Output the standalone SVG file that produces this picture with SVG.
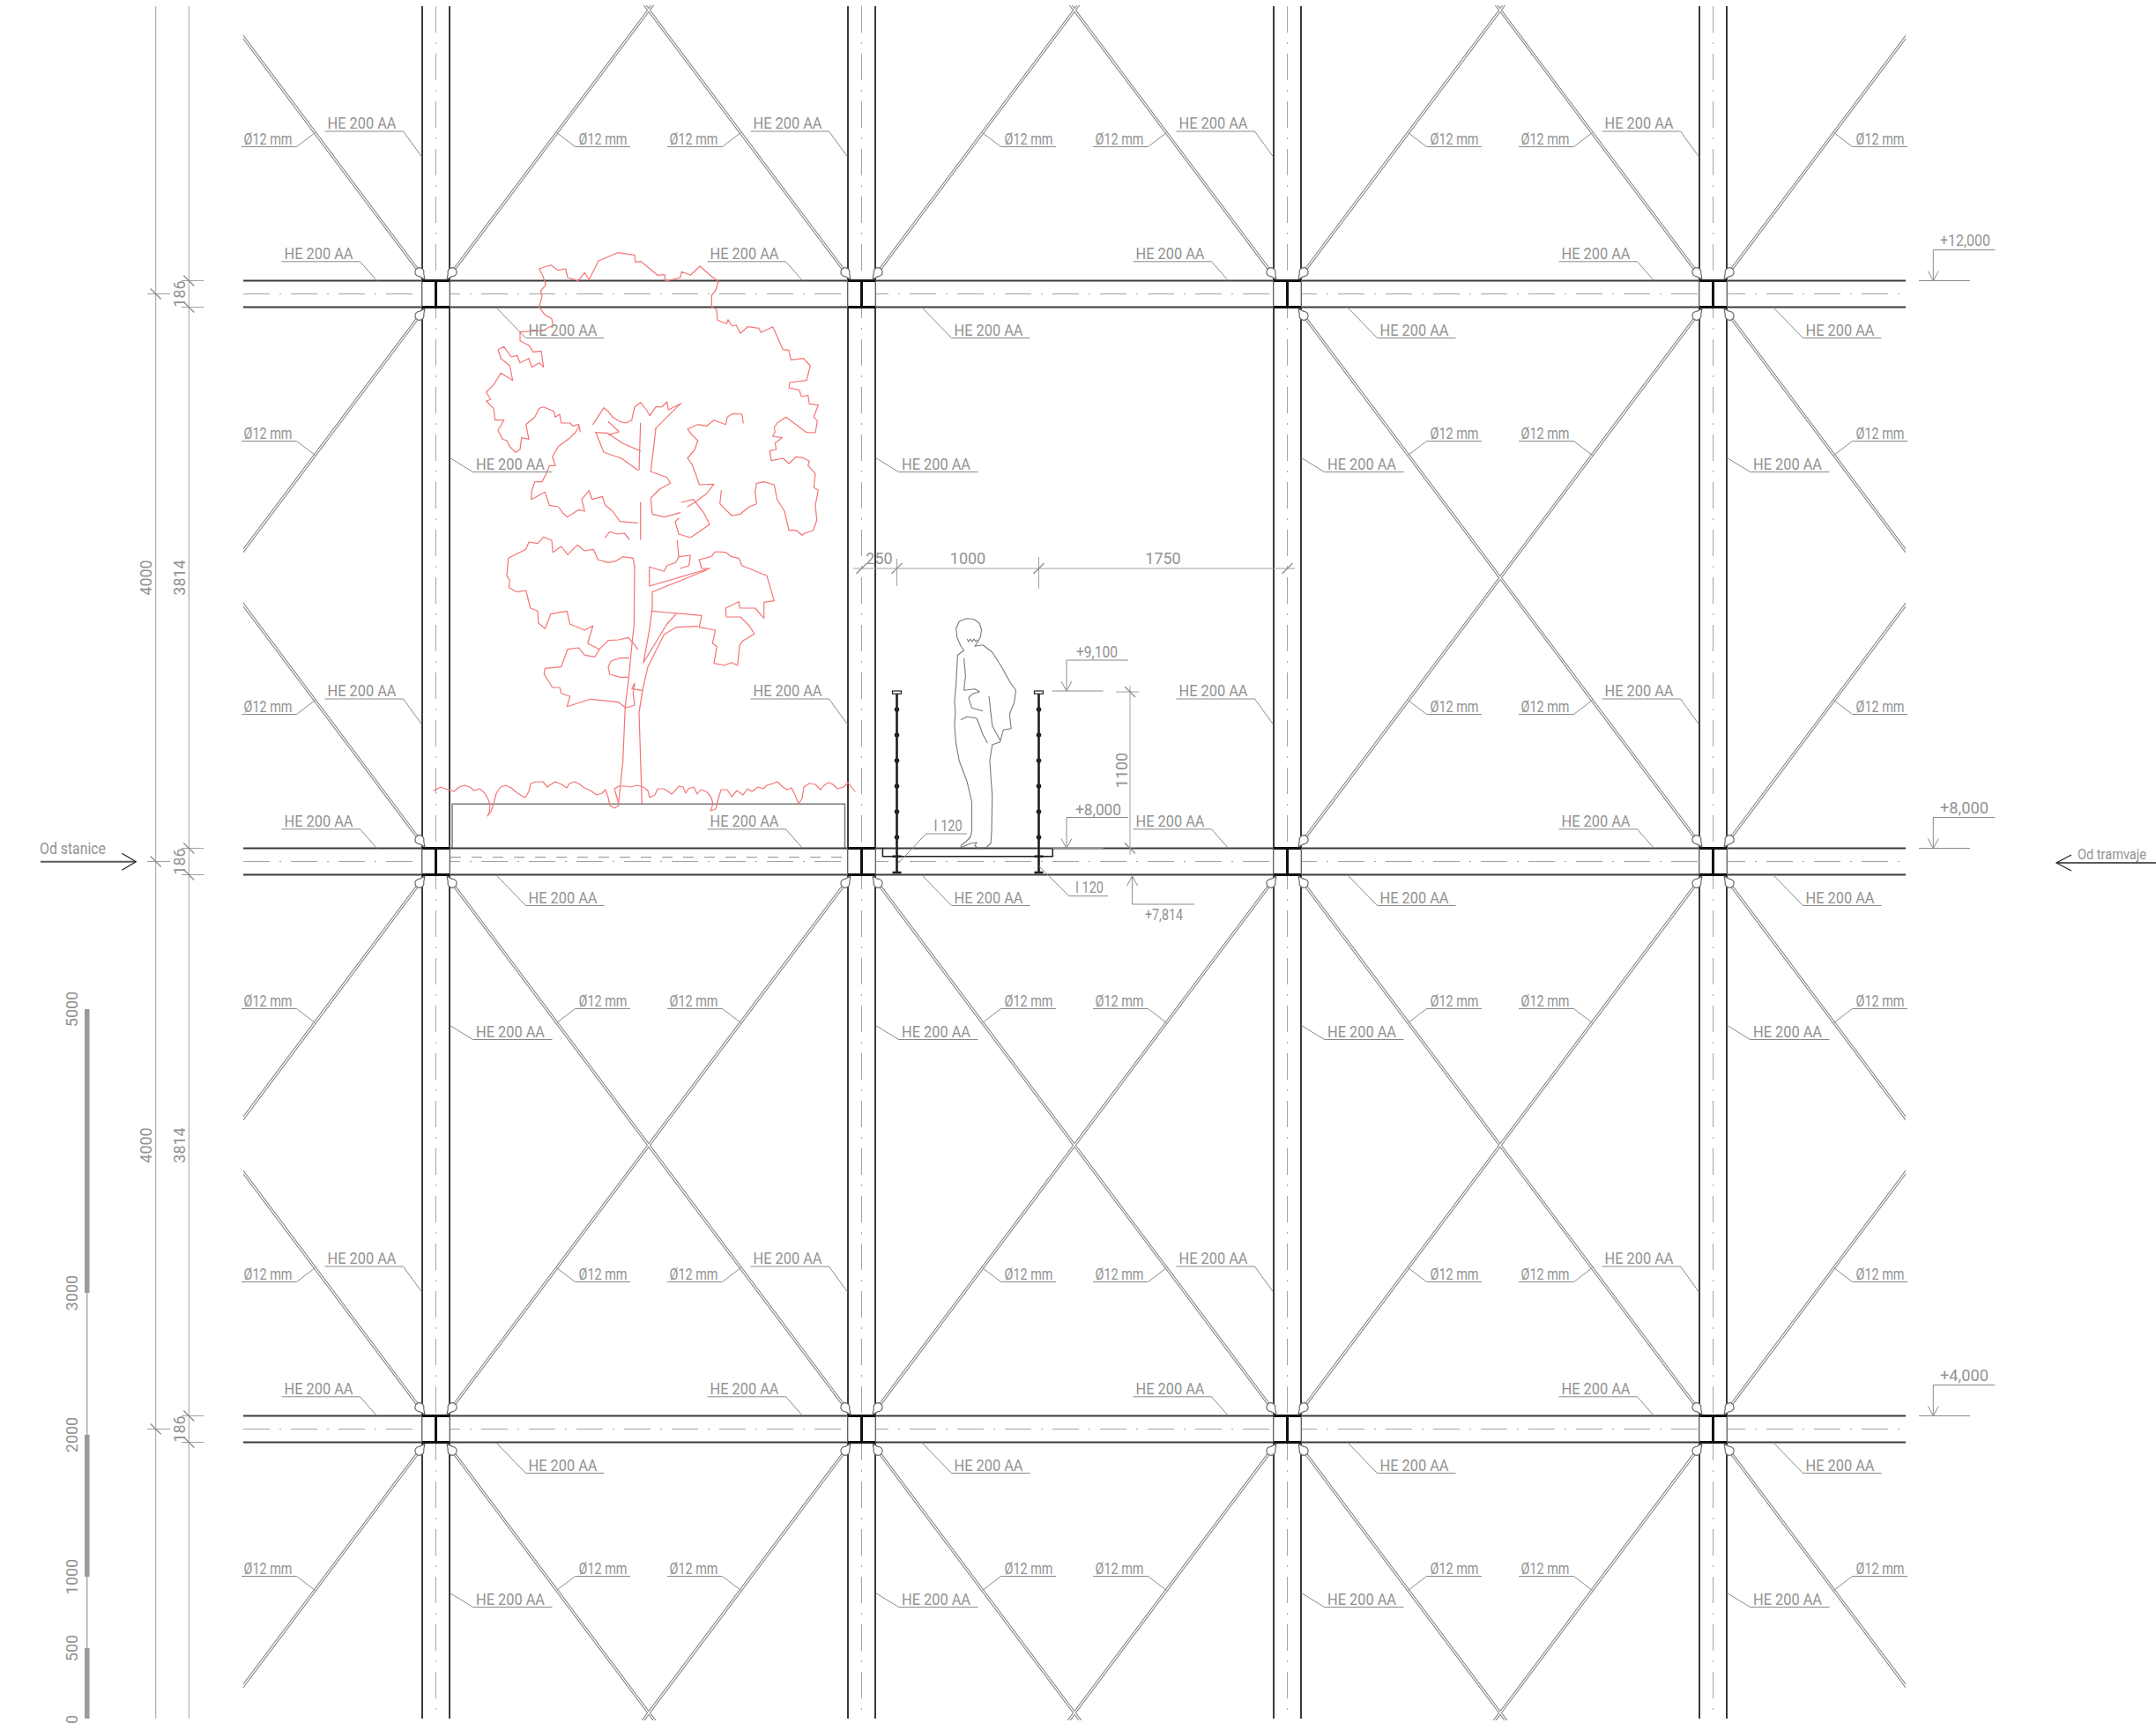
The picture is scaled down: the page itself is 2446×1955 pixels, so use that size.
<svg xmlns="http://www.w3.org/2000/svg" width="2446" height="1955" viewBox="0 0 2446 1955">
<style>
.t{font-family:Roboto,"Liberation Sans",sans-serif;font-size:18px;font-weight:400;fill:#929292}
.ld{fill:none;stroke:#8a8a8a;stroke-width:1}
.edge{fill:none;stroke:#3a3a3a;stroke-width:2}
.cl{fill:none;stroke:#a3a3a3;stroke-width:1;stroke-dasharray:30 11 2 11}
.dim{fill:none;stroke:#a0a0a0;stroke-width:1}
.tk{fill:none;stroke:#8a8a8a;stroke-width:1.2}
.tree{fill:none;stroke:#f37474;stroke-width:1.2;stroke-linejoin:round;stroke-linecap:round}
.cv{fill:#fff;stroke:#6a6a6a;stroke-width:1.2}
.blk{fill:#111}
.ink{fill:none;stroke:#1e1e1e}
</style>
<defs>
  <clipPath id="frame"><rect x="276" y="6" width="1886" height="1946"/></clipPath>
  <!-- centre lines of all tension rods, trimmed at the clevises -->
  <path id="rodpath" d="M33.1,-281.7L472.9,304.7M33.1,304.7L472.9,-281.7M516.1,-281.7L955.9,304.7M516.1,304.7L955.9,-281.7M999.1,-281.7L1438.9,304.7M999.1,304.7L1438.9,-281.7M1482.1,-281.7L1921.9,304.7M1482.1,304.7L1921.9,-281.7M1965.1,-281.7L2404.9,304.7M1965.1,304.7L2404.9,-281.7
  M33.1,362.3L472.9,948.7M33.1,948.7L472.9,362.3M1482.1,362.3L1921.9,948.7M1482.1,948.7L1921.9,362.3M1965.1,362.3L2404.9,948.7M1965.1,948.7L2404.9,362.3
  M33.1,1006.3L472.9,1592.7M33.1,1592.7L472.9,1006.3M516.1,1006.3L955.9,1592.7M516.1,1592.7L955.9,1006.3M999.1,1006.3L1438.9,1592.7M999.1,1592.7L1438.9,1006.3M1482.1,1006.3L1921.9,1592.7M1482.1,1592.7L1921.9,1006.3M1965.1,1006.3L2404.9,1592.7M1965.1,1592.7L2404.9,1006.3
  M33.1,1650.3L472.9,2236.7M33.1,2236.7L472.9,1650.3M516.1,1650.3L955.9,2236.7M516.1,2236.7L955.9,1650.3M999.1,1650.3L1438.9,2236.7M999.1,2236.7L1438.9,1650.3M1482.1,1650.3L1921.9,2236.7M1482.1,2236.7L1921.9,1650.3M1965.1,1650.3L2404.9,2236.7M1965.1,2236.7L2404.9,1650.3"/>
  <!-- rod end clevis, drawn along +x away from the joint centre -->
  <path id="cv" class="cv" d="M21,0 L27,-3 A5,5 0 1 1 27,3 Z"/>
  <!-- steel node: cross-section of the transverse HE beam -->
  <g id="jt">
    <rect x="-15.5" y="-15" width="31" height="30" fill="#fff" stroke="#8a8a8a" stroke-width="1"/>
    <rect class="blk" x="-15.5" y="-16.5" width="31" height="3"/>
    <rect class="blk" x="-15.5" y="13.5" width="31" height="3"/>
    <rect class="blk" x="-1.5" y="-15" width="3" height="30"/>
  </g>
  <!-- dimension ticks -->
  <line id="tkh" class="tk" x1="-6" y1="6" x2="6" y2="-6"/>
  <line id="tkv" class="tk" x1="-6" y1="-6" x2="6" y2="6"/>
  <!-- rod labels, positioned from the joint centre -->
  <g id="oA"><polyline class="ld" points="-220.5,-167 -158,-167 -137,-183"/><text class="t" x="-218" y="-169.5" textLength="55" lengthAdjust="spacingAndGlyphs">Ø12 mm</text></g>
  <g id="oB"><polyline class="ld" points="-220.5,167 -158,167 -137,183"/><text class="t" x="-218" y="164.5" textLength="55" lengthAdjust="spacingAndGlyphs">Ø12 mm</text></g>
  <g id="oC"><polyline class="ld" points="137,-183 158,-167 220.5,-167"/><text class="t" x="162" y="-169.5" textLength="55" lengthAdjust="spacingAndGlyphs">Ø12 mm</text></g>
  <g id="oD"><polyline class="ld" points="137,183 158,167 220.5,167"/><text class="t" x="162" y="164.5" textLength="55" lengthAdjust="spacingAndGlyphs">Ø12 mm</text></g>
  <!-- profile labels -->
  <g id="hE"><polyline class="ld" points="-126,-184.5 -37,-184.5 -16,-155.5"/><text class="t" x="-123" y="-187.5" textLength="78" lengthAdjust="spacingAndGlyphs">HE 200 AA</text></g>
  <g id="hF"><polyline class="ld" points="16,186 42,202 132,202"/><text class="t" x="45.5" y="199" textLength="78" lengthAdjust="spacingAndGlyphs">HE 200 AA</text></g>
  <g id="hG"><polyline class="ld" points="-175,-36.7 -86,-36.7 -67,-15"/><text class="t" x="-172" y="-39.5" textLength="78" lengthAdjust="spacingAndGlyphs">HE 200 AA</text></g>
  <g id="hH"><polyline class="ld" points="68,15 102,50 191,50"/><text class="t" x="105" y="47" textLength="78" lengthAdjust="spacingAndGlyphs">HE 200 AA</text></g>
  <!-- level marker, arrow pointing down onto the level line -->
  <g id="lv"><polyline class="ld" points="70,-35 0,-35 0,0"/><polyline class="ld" points="-6,-11 0,0 6,-11"/><line class="ld" x1="-16.3" y1="0" x2="41.7" y2="0"/></g>
  <!-- railing post with I 120 base -->
  <g id="post">
    <line class="ink" x1="0" y1="787" x2="0" y2="990" stroke-width="2.6"/>
    <rect x="-5" y="784" width="10" height="3.2" fill="#fff" stroke="#1e1e1e" stroke-width="1.2"/>
    <g fill="#222"><circle cx="0" cy="805" r="2.8"/><circle cx="0" cy="834" r="2.8"/><circle cx="0" cy="863" r="2.8"/><circle cx="0" cy="892" r="2.8"/><circle cx="0" cy="921" r="2.8"/><circle cx="0" cy="950" r="2.8"/></g>
    <line class="ink" x1="-5" y1="971.7" x2="5" y2="971.7" stroke-width="2.5"/>
    <line class="ink" x1="-5" y1="990" x2="5" y2="990" stroke-width="2.5"/>
  </g>
</defs>

<rect width="2446" height="1955" fill="#fff"/>

<!-- tension rods (X bracing), drawn as double lines -->
<g id="rods" clip-path="url(#frame)" fill="none">
  <use href="#rodpath" stroke="#858585" stroke-width="3.4"/>
  <use href="#rodpath" stroke="#ffffff" stroke-width="1.3"/>
</g>

<!-- planter in the first bay -->
<g id="planter">
  <polyline points="513,962.5 513,912.3 958.5,912.3 958.5,962.5" fill="none" stroke="#7a7a7a" stroke-width="1.5"/>
  <line x1="511" y1="972.7" x2="960" y2="972.7" stroke="#8a8a8a" stroke-width="1" stroke-dasharray="12 12"/>
</g>

<!-- beams -->
<g id="beams">
  <g id="beam-12000"><line class="edge" x1="276" y1="318.5" x2="2162" y2="318.5"/><line class="edge" x1="276" y1="348.5" x2="2162" y2="348.5"/><line class="cl" x1="276" y1="333.5" x2="2162" y2="333.5"/></g>
  <g id="beam-8000"><line class="edge" x1="276" y1="962.5" x2="2162" y2="962.5"/><line class="edge" x1="276" y1="992.5" x2="2162" y2="992.5"/><line class="cl" x1="276" y1="977.5" x2="2162" y2="977.5"/></g>
  <g id="beam-4000"><line class="edge" x1="276" y1="1606.5" x2="2162" y2="1606.5"/><line class="edge" x1="276" y1="1636.5" x2="2162" y2="1636.5"/><line class="cl" x1="276" y1="1621.5" x2="2162" y2="1621.5"/></g>
</g>

<!-- columns -->
<g id="columns">
  <g id="col-1"><line class="edge" x1="479" y1="7" x2="479" y2="1950"/><line class="edge" x1="510" y1="7" x2="510" y2="1950"/><line class="cl" x1="494.5" y1="7" x2="494.5" y2="1950"/></g>
  <g id="col-2"><line class="edge" x1="962" y1="7" x2="962" y2="1950"/><line class="edge" x1="993" y1="7" x2="993" y2="1950"/><line class="cl" x1="977.5" y1="7" x2="977.5" y2="1950"/></g>
  <g id="col-3"><line class="edge" x1="1445" y1="7" x2="1445" y2="1950"/><line class="edge" x1="1476" y1="7" x2="1476" y2="1950"/><line class="cl" x1="1460.5" y1="7" x2="1460.5" y2="1950"/></g>
  <g id="col-4"><line class="edge" x1="1928" y1="7" x2="1928" y2="1950"/><line class="edge" x1="1959" y1="7" x2="1959" y2="1950"/><line class="cl" x1="1943.5" y1="7" x2="1943.5" y2="1950"/></g>
</g>

<!-- nodes -->
<g id="joints">
  <use href="#jt" x="494.5" y="333.5"/><use href="#jt" x="977.5" y="333.5"/><use href="#jt" x="1460.5" y="333.5"/><use href="#jt" x="1943.5" y="333.5"/>
  <use href="#jt" x="494.5" y="977.5"/><use href="#jt" x="977.5" y="977.5"/><use href="#jt" x="1460.5" y="977.5"/><use href="#jt" x="1943.5" y="977.5"/>
  <use href="#jt" x="494.5" y="1621.5"/><use href="#jt" x="977.5" y="1621.5"/><use href="#jt" x="1460.5" y="1621.5"/><use href="#jt" x="1943.5" y="1621.5"/>
</g>

<!-- clevises at rod ends -->
<g id="clevises">
  <use href="#cv" transform="translate(494.5,333.5) rotate(-126.87)"/><use href="#cv" transform="translate(494.5,333.5) rotate(-53.13)"/><use href="#cv" transform="translate(494.5,333.5) rotate(126.87)"/>
  <use href="#cv" transform="translate(977.5,333.5) rotate(-126.87)"/><use href="#cv" transform="translate(977.5,333.5) rotate(-53.13)"/>
  <use href="#cv" transform="translate(1460.5,333.5) rotate(-126.87)"/><use href="#cv" transform="translate(1460.5,333.5) rotate(-53.13)"/><use href="#cv" transform="translate(1460.5,333.5) rotate(53.13)"/>
  <use href="#cv" transform="translate(1943.5,333.5) rotate(-126.87)"/><use href="#cv" transform="translate(1943.5,333.5) rotate(-53.13)"/><use href="#cv" transform="translate(1943.5,333.5) rotate(126.87)"/><use href="#cv" transform="translate(1943.5,333.5) rotate(53.13)"/>
  <use href="#cv" transform="translate(494.5,977.5) rotate(-126.87)"/><use href="#cv" transform="translate(494.5,977.5) rotate(126.87)"/><use href="#cv" transform="translate(494.5,977.5) rotate(53.13)"/>
  <use href="#cv" transform="translate(977.5,977.5) rotate(126.87)"/><use href="#cv" transform="translate(977.5,977.5) rotate(53.13)"/>
  <use href="#cv" transform="translate(1460.5,977.5) rotate(-53.13)"/><use href="#cv" transform="translate(1460.5,977.5) rotate(126.87)"/><use href="#cv" transform="translate(1460.5,977.5) rotate(53.13)"/>
  <use href="#cv" transform="translate(1943.5,977.5) rotate(-126.87)"/><use href="#cv" transform="translate(1943.5,977.5) rotate(-53.13)"/><use href="#cv" transform="translate(1943.5,977.5) rotate(126.87)"/><use href="#cv" transform="translate(1943.5,977.5) rotate(53.13)"/>
  <use href="#cv" transform="translate(494.5,1621.5) rotate(-126.87)"/><use href="#cv" transform="translate(494.5,1621.5) rotate(-53.13)"/><use href="#cv" transform="translate(494.5,1621.5) rotate(126.87)"/><use href="#cv" transform="translate(494.5,1621.5) rotate(53.13)"/>
  <use href="#cv" transform="translate(977.5,1621.5) rotate(-126.87)"/><use href="#cv" transform="translate(977.5,1621.5) rotate(-53.13)"/><use href="#cv" transform="translate(977.5,1621.5) rotate(126.87)"/><use href="#cv" transform="translate(977.5,1621.5) rotate(53.13)"/>
  <use href="#cv" transform="translate(1460.5,1621.5) rotate(-126.87)"/><use href="#cv" transform="translate(1460.5,1621.5) rotate(-53.13)"/><use href="#cv" transform="translate(1460.5,1621.5) rotate(126.87)"/><use href="#cv" transform="translate(1460.5,1621.5) rotate(53.13)"/>
  <use href="#cv" transform="translate(1943.5,1621.5) rotate(-126.87)"/><use href="#cv" transform="translate(1943.5,1621.5) rotate(-53.13)"/><use href="#cv" transform="translate(1943.5,1621.5) rotate(126.87)"/><use href="#cv" transform="translate(1943.5,1621.5) rotate(53.13)"/>
</g>

<!-- tree -->
<g id="tree" class="tree">
  <polyline points="658.3,490 656.7,481.7 650,483.3 646.7,480 636.7,480 635,470 630,473.3 628.3,466.7 616.7,461.7 611.7,463.3 606.7,473.3 596.7,481.7 600,498.3 591.7,496.7 590,510 585,513.3 578.3,506.7 575,500 570,498.3 565,488.3 571.7,476.7 561.7,476.7 560,463.3 551.7,455 556.7,453.3 551.7,445 560,436.7 568.3,423.3 581.7,431.7 578.3,415 568.3,406.7 565,396.7 571.7,393.3 580,405 586.7,403.3 590,411.7 600,406.7 603.3,416.7 611.7,411.7 616.7,416.7 614,398.3 605,399.3 600,391.7 590,386.7 590,376.7 616.7,375 621.7,371.7 627.3,369.3 626,361.7 618.3,357.3 611.7,348.3 615,336 613.3,330 619.3,323.3 616,313.3 611.7,305 618.3,302.7 625,300.7 633.3,306.7 641.7,305 644,315 656,318.3 663.3,309.3 668.3,317.3 679,296 700.7,286.7 720,289.3 720.7,297.3 727.3,296.7 746,312.3 754,311.7 755,319 771.7,315 773.3,308.3 783.3,312.3 794,302 806.7,313.3 815,319.3 811.7,330 807.3,335 807.3,348.3 812.7,350.7 814,363.3 824.3,367.3 826,362.7 830.7,370 835,368.7 840,378.3 848.3,370.7 860.7,372.3 863.3,377.3 876.7,370.7 888.3,396.7 895,397.3 897.3,408.3 911.7,406.7 919.3,415 915,431.7 896,434 895,440 906.7,442.7 909.3,450 916.7,448.7 918.3,458.3 928.3,459.3 923.3,473.3 927.3,477.3 925,491 915,490.7 906,484 891.7,473.3 881.7,480 878.3,485 879.3,490 876.7,495 887.3,496.7 879.3,502.7 880.7,510 873.3,511.7 875,522.7 888.3,520 895,526 903.3,518.3 910.7,519.3 918.3,523.3 916.7,528.3 925,537.3 923.3,553.3 928.3,556 925,573.3 926.7,590 922.7,601.7 913.3,605 910,607.3 903.3,601.7 895,601.7 890,580 881.7,566.7 878.3,550 866.7,546.7 858.3,548.3 856.7,558.3 858.3,571.7 850,575 840,583.3 830,585 816.7,571.7 818.3,556.7"/>
  <polyline points="843.3,480 841.7,470 831.7,469.3 825,473.3 823.3,481.7 810,476.7 801.7,483.3 791.7,481.7 780,486.7 785,493.3 791.7,500 788.3,510 780,520 785,526.7 790,540 793.3,550 810,549.3 801.7,560 788.3,570 780,575"/>
  <polyline points="656.7,484 653.3,490 646.7,496.7 633.3,506.7 626.7,518.3 630,528.3 623.3,528.3 620,536.7 615,546.7 606.7,546.7 603.3,556.7 602.7,566.7 618.3,558.3 623.3,573.3 633.3,575 638.3,581.7 643.3,586.7 656.7,578.3 663.3,580 660,566.7 668.3,556.7 671.7,566.7 683.3,563.3 686.7,573.3 695,580 703.3,591.7 723.3,593.3"/>
  <polyline points="672.7,481.7 685,462.7 690,466.7 695,473.3 703.3,478.3 710,480 716.7,476.7 720,461.7 726.7,456.7 733.3,465 737.3,471.7 744,461.7 750.7,461.7 756.7,456 758.3,465 772.7,457.7"/>
  <polyline points="676,490.7 685,513.3 705,520 723.3,533.3"/>
  <polyline points="690,478.3 702.3,490 690.7,493.3"/>
  <polyline points="676,490.7 690,491.7 706.7,503.3 726.7,511.7"/>
  <polyline points="726.7,480 725,533.3"/>
  <polyline points="744,486.7 738.3,535 756.7,541.7 760.7,548.3 748.3,555 738.3,565 740,583.3 753.3,586.7 771.7,581.7"/>
  <polyline points="743.3,486.7 771.7,458.3"/>
  <polyline points="726.7,570 726.7,612"/>
  <polyline points="773.3,570 786.7,566.7 798.3,581.7 805,595 793.3,603.3 783.3,610 770,606 766,592 770,588"/>
  <polyline points="686.7,610 691.7,603.3 700,606 708.3,605 714,612"/>
  <polyline points="720,643.3 718.3,633.3 706.7,631.7 698.3,636.7 690,638.3 678.3,635 673.3,623.3 663.3,625 655,618.3 644,629.3 636.7,620 627.3,626.7 626,613.3 616.7,609.3 610,616.7 600,615 596.7,623.3 576.7,633.3 575,653.3 578.3,658.3 577.3,666.7 586.7,671.7 596.7,670 601.7,690 610,693.3 610.7,706.7 618.3,713.3 625,696.7 643.3,693.3 646.7,708.3 663.3,715 672.7,710 666.7,730 680,736.7 690,726.7 701.7,726 712.7,723.3 720,731.7 723.3,736.7"/>
  <polyline points="680,736.7 675,745.3 663.3,743.3 656.7,735 644,736.7 636.7,756.7 618.3,758.3 617.3,765 626.7,780 635,780 636.7,786.7 646.7,790 643.3,801.7 670,793.3 701.7,796.7 710,803.3 720,800 718.3,786.7 720,775 716.7,781.7 728.3,783.3"/>
  <polyline points="713.3,746.7 703.3,746.7 693.3,750 690,756.7 691.7,765 703.3,768.3 712.7,768.3"/>
  <polyline points="720,643.3 719.3,710 716.7,733.3 713.3,770 709.3,801.7 706.7,863.3 701.7,911.7"/>
  <polyline points="728.3,911.7 725,808.3 729.3,781.7 735,756.7 753.3,720 766.7,711.7 791.7,710.7"/>
  <polyline points="730,751.7 736.7,715 740,690 740,671.7"/>
  <polyline points="730,751.7 756.7,708 766.7,697"/>
  <polyline points="736.7,643.3 736.7,665 805,645"/>
  <polyline points="740,671.7 801.7,646.7"/>
  <polyline points="740,693.3 756.7,695 776.7,696.7 796,698.3 793.3,711.7"/>
  <polyline points="793.3,635 806.7,631.7 811.7,626 823.3,626.7 830,631.7 838.3,633.3 841.7,641.7 870,653.3 878.3,681.7 866.7,683.3 866.7,701.7 856.7,690 839.3,690 838.3,682.7 823.3,690 824,700 840,700 850,710 856,719.3 843.3,726.7 839.3,731.7 836.7,755 830,751.7 821.7,755 810,752.7 813.3,733.3 808.3,730 811.7,715 793.3,711.7"/>
  <polyline points="736.7,643.3 753.3,648.3 756.7,641.7 766.7,638.3 770,631.7 768.3,613.3"/>
  <polyline points="770,631.7 783.3,630 781.7,641.7 771.7,645"/>
  <polyline points="793.3,635 796,645 805,645"/>
  <!-- grass -->
  <polyline points="492,897 500,893 508,896 515,898 521,893 527,891 533,893 538,897 544,895 549,899 553,905 556,913 555,922 553,926 557,921 560,912 563,900 568,893 574,891 580,894 586,899 592,903 596,905 600,898 602,889 608,887 616,887 621,893 625,890 630,887 637,890 643,894 646,889 652,887 658,890 663,894 670,897 677,902 683,900 687,896 690,905 692,914 697,917 702,914 700,905 697,895 702,892 710,892 716,893 723,891 730,893 735,897 737,905 743,902 746,895 753,895 758,898 762,901 767,896 770,892 775,893 778,900 781,895 787,893 791,901 795,896 801,898 806,903 809,912 806,920 812,918 815,906 818,896 825,896 830,904 836,897 843,902 848,895 853,898 860,893 866,895 870,891 877,889 882,887 888,893 893,896 898,894 902,902 906,912 910,906 912,893 918,889 925,890 931,896 935,891 940,888 945,890 950,895 957,893 962,888 966,893 970,898"/>
</g>

<!-- person on the walkway -->
<g id="person" fill="none" stroke="#7a7a7a" stroke-width="1.1" stroke-linejoin="round">
  <path d="M1097,701.7 L1105,702.8 L1111,707 L1113.5,714 L1112.5,722 L1109,729 L1106,733.3 L1115,731.7 L1125.7,740 L1136.4,756.7 L1145.4,773.3 L1152.5,783.3 L1150.7,796.7 L1145.4,810 L1147.1,826.7 L1138.2,828.3 L1134.6,841.7 L1125.7,845 L1122.9,863.3 L1125.7,903.3 L1125,943.3 L1124,957 L1119,961.5 L1109,962 L1106,959.5 L1108,956 L1101,957 L1094,960 L1090,961.5 L1090.5,959 L1096,955 L1100.7,950 L1102.5,943.3 L1102.5,910 L1097.1,886.7 L1088.2,863.3 L1084.6,843.3 L1082.9,823.3 L1083.9,806.7 L1082.9,796.7 L1084.6,776.7 L1085.5,760 L1086.4,743.3 L1093.6,738 L1090,733 L1086,724 L1084.6,713.3 L1088.2,705 Z"/>
  <polyline points="1093.6,746.7 1095.4,766.7 1093.6,783.3 1106.1,781.7 1111.4,785 1104.3,786.7 1098.9,791.7 1102.5,803.3 1115,806.7"/>
  <polyline points="1090,816.7 1097.1,813.3 1107.9,815 1111.4,823.3 1115,833.3 1120.4,843.3"/>
  <polyline points="1122,790 1125.7,823.3 1134.6,840"/>
  <polyline points="1097,725 1099,728 1101,725 1103,728 1105,725 1107,728 1109,726"/>
</g>

<!-- railing and deck -->
<g id="railing">
  <use href="#post" x="1017.5"/>
  <use href="#post" x="1178.5"/>
  <polyline class="ink" stroke-width="1.5" points="1001.4,962.5 1001.4,971.7 1194.3,971.7 1194.3,962.5"/>
</g>

<!-- profile and rod labels -->
<g id="labels">
  <!-- level +12,000 -->
  <use href="#oA" x="494.5" y="333.5"/><use href="#oA" x="977.5" y="333.5"/><use href="#oA" x="1460.5" y="333.5"/><use href="#oA" x="1943.5" y="333.5"/>
  <use href="#oC" x="494.5" y="333.5"/><use href="#oC" x="977.5" y="333.5"/><use href="#oC" x="1460.5" y="333.5"/><use href="#oC" x="1943.5" y="333.5"/>
  <use href="#hE" x="494.5" y="333.5"/><use href="#hE" x="977.5" y="333.5"/><use href="#hE" x="1460.5" y="333.5"/><use href="#hE" x="1943.5" y="333.5"/>
  <use href="#hG" x="494.5" y="333.5"/><use href="#hG" x="977.5" y="333.5"/><use href="#hG" x="1460.5" y="333.5"/><use href="#hG" x="1943.5" y="333.5"/>
  <use href="#hH" x="494.5" y="333.5"/><use href="#hH" x="977.5" y="333.5"/><use href="#hH" x="1460.5" y="333.5"/><use href="#hH" x="1943.5" y="333.5"/>
  <use href="#hF" x="494.5" y="333.5"/><use href="#hF" x="977.5" y="333.5"/><use href="#hF" x="1460.5" y="333.5"/><use href="#hF" x="1943.5" y="333.5"/>
  <use href="#oB" x="494.5" y="333.5"/><use href="#oB" x="1943.5" y="333.5"/>
  <use href="#oD" x="1460.5" y="333.5"/><use href="#oD" x="1943.5" y="333.5"/>
  <!-- level +8,000 -->
  <use href="#hE" x="494.5" y="977.5"/><use href="#hE" x="977.5" y="977.5"/><use href="#hE" x="1460.5" y="977.5"/><use href="#hE" x="1943.5" y="977.5"/>
  <use href="#oA" x="494.5" y="977.5"/><use href="#oA" x="1943.5" y="977.5"/>
  <use href="#oC" x="1460.5" y="977.5"/><use href="#oC" x="1943.5" y="977.5"/>
  <use href="#hG" x="494.5" y="977.5"/><use href="#hG" x="977.5" y="977.5"/><use href="#hG" x="1460.5" y="977.5"/><use href="#hG" x="1943.5" y="977.5"/>
  <use href="#hH" x="494.5" y="977.5"/><use href="#hH" x="977.5" y="977.5"/><use href="#hH" x="1460.5" y="977.5"/><use href="#hH" x="1943.5" y="977.5"/>
  <use href="#oB" x="494.5" y="977.5"/><use href="#oB" x="977.5" y="977.5"/><use href="#oB" x="1460.5" y="977.5"/><use href="#oB" x="1943.5" y="977.5"/>
  <use href="#oD" x="494.5" y="977.5"/><use href="#oD" x="977.5" y="977.5"/><use href="#oD" x="1460.5" y="977.5"/><use href="#oD" x="1943.5" y="977.5"/>
  <use href="#hF" x="494.5" y="977.5"/><use href="#hF" x="977.5" y="977.5"/><use href="#hF" x="1460.5" y="977.5"/><use href="#hF" x="1943.5" y="977.5"/>
  <!-- level +4,000 -->
  <use href="#hE" x="494.5" y="1621.5"/><use href="#hE" x="977.5" y="1621.5"/><use href="#hE" x="1460.5" y="1621.5"/><use href="#hE" x="1943.5" y="1621.5"/>
  <use href="#oA" x="494.5" y="1621.5"/><use href="#oA" x="977.5" y="1621.5"/><use href="#oA" x="1460.5" y="1621.5"/><use href="#oA" x="1943.5" y="1621.5"/>
  <use href="#oC" x="494.5" y="1621.5"/><use href="#oC" x="977.5" y="1621.5"/><use href="#oC" x="1460.5" y="1621.5"/><use href="#oC" x="1943.5" y="1621.5"/>
  <use href="#hG" x="494.5" y="1621.5"/><use href="#hG" x="977.5" y="1621.5"/><use href="#hG" x="1460.5" y="1621.5"/><use href="#hG" x="1943.5" y="1621.5"/>
  <use href="#hH" x="494.5" y="1621.5"/><use href="#hH" x="977.5" y="1621.5"/><use href="#hH" x="1460.5" y="1621.5"/><use href="#hH" x="1943.5" y="1621.5"/>
  <use href="#oB" x="494.5" y="1621.5"/><use href="#oB" x="977.5" y="1621.5"/><use href="#oB" x="1460.5" y="1621.5"/><use href="#oB" x="1943.5" y="1621.5"/>
  <use href="#oD" x="494.5" y="1621.5"/><use href="#oD" x="977.5" y="1621.5"/><use href="#oD" x="1460.5" y="1621.5"/><use href="#oD" x="1943.5" y="1621.5"/>
  <use href="#hF" x="494.5" y="1621.5"/><use href="#hF" x="977.5" y="1621.5"/><use href="#hF" x="1460.5" y="1621.5"/><use href="#hF" x="1943.5" y="1621.5"/>
  <!-- I 120 railing bases -->
  <polyline class="ld" points="1019.3,979.3 1050.7,946 1097,946"/>
  <text class="t" x="1059.6" y="942.5" textLength="32" lengthAdjust="spacingAndGlyphs">I 120</text>
  <polyline class="ld" points="1178.6,982.7 1213,1016.7 1257,1016.7"/>
  <text class="t" x="1220" y="1013" textLength="32" lengthAdjust="spacingAndGlyphs">I 120</text>
</g>

<!-- walkway dimensions and levels -->
<g id="walkway-dims">
  <line class="dim" x1="968" y1="645" x2="1469" y2="645"/>
  <line class="dim" x1="1017.5" y1="634" x2="1017.5" y2="665"/>
  <line class="dim" x1="1178.5" y1="632" x2="1178.5" y2="668"/>
  <use href="#tkh" x="977.5" y="645"/><use href="#tkh" x="1017.5" y="645"/><use href="#tkh" x="1178.5" y="645"/><use href="#tkh" x="1460.5" y="645"/>
  <text class="t" x="997.5" y="640" text-anchor="middle">250</text>
  <text class="t" x="1098" y="640" text-anchor="middle">1000</text>
  <text class="t" x="1319.5" y="640" text-anchor="middle">1750</text>
  <use href="#lv" x="1210" y="784"/>
  <text class="t" x="1221" y="746" textLength="47" lengthAdjust="spacingAndGlyphs">+9,100</text>
  <use href="#lv" x="1210" y="962.5"/>
  <text class="t" x="1220" y="924.5" textLength="52" lengthAdjust="spacingAndGlyphs">+8,000</text>
  <line class="dim" x1="1282" y1="778" x2="1282" y2="970"/>
  <line class="dim" x1="1266" y1="785" x2="1292" y2="785"/>
  <use href="#tkv" x="1282" y="785"/><use href="#tkv" x="1282" y="962.5"/>
  <text class="t" transform="translate(1279,874) rotate(-90)" text-anchor="middle">1100</text>
  <polyline class="ld" points="1284.6,994 1284.6,1026 1355,1026"/>
  <polyline class="ld" points="1278.6,1005 1284.6,994 1290.6,1005"/>
  <text class="t" x="1299" y="1043.5" textLength="43" lengthAdjust="spacingAndGlyphs">+7,814</text>
</g>

<!-- level markers on the right -->
<g id="levels">
  <use href="#lv" x="2193.3" y="318.5"/>
  <text class="t" x="2201" y="279" textLength="57" lengthAdjust="spacingAndGlyphs">+12,000</text>
  <use href="#lv" x="2193.3" y="962.5"/>
  <text class="t" x="2201" y="923" textLength="55" lengthAdjust="spacingAndGlyphs">+8,000</text>
  <use href="#lv" x="2193.3" y="1606.5"/>
  <text class="t" x="2201" y="1567" textLength="55" lengthAdjust="spacingAndGlyphs">+4,000</text>
</g>

<!-- direction arrows -->
<g id="directions">
  <line x1="46" y1="977.7" x2="154" y2="977.7" stroke="#5a5a5a" stroke-width="2"/>
  <polyline points="138.3,968.3 154.3,977.7 138.3,987.3" fill="none" stroke="#222" stroke-width="1.2"/>
  <text class="t" x="45" y="969" textLength="75" lengthAdjust="spacingAndGlyphs">Od stanice</text>
  <line x1="2333" y1="979" x2="2446" y2="979" stroke="#5a5a5a" stroke-width="2"/>
  <polyline points="2350,970 2333,979 2350,988" fill="none" stroke="#222" stroke-width="1.2"/>
  <text class="t" x="2357" y="975" style="font-size:17px" textLength="78" lengthAdjust="spacingAndGlyphs">Od tramvaje</text>
</g>

<!-- storey dimensions on the left -->
<g id="storey-dims">
  <line class="dim" x1="176.7" y1="7" x2="176.7" y2="1950"/>
  <line class="dim" x1="214.3" y1="7" x2="214.3" y2="1950"/>
  <line class="dim" x1="167" y1="333.5" x2="193" y2="333.5"/><line class="dim" x1="167" y1="977.5" x2="193" y2="977.5"/><line class="dim" x1="167" y1="1621.5" x2="193" y2="1621.5"/>
  <use href="#tkv" x="176.7" y="333.5"/><use href="#tkv" x="176.7" y="977.5"/><use href="#tkv" x="176.7" y="1621.5"/>
  <line class="dim" x1="206" y1="318.5" x2="231" y2="318.5"/><line class="dim" x1="206" y1="348.5" x2="231" y2="348.5"/>
  <line class="dim" x1="206" y1="962.5" x2="231" y2="962.5"/><line class="dim" x1="206" y1="992.5" x2="231" y2="992.5"/>
  <line class="dim" x1="206" y1="1606.5" x2="231" y2="1606.5"/><line class="dim" x1="206" y1="1636.5" x2="231" y2="1636.5"/>
  <use href="#tkv" x="214.3" y="318.5"/><use href="#tkv" x="214.3" y="348.5"/><use href="#tkv" x="214.3" y="962.5"/><use href="#tkv" x="214.3" y="992.5"/><use href="#tkv" x="214.3" y="1606.5"/><use href="#tkv" x="214.3" y="1636.5"/>
  <text class="t" transform="translate(171.5,655.5) rotate(-90)" text-anchor="middle">4000</text>
  <text class="t" transform="translate(209.5,655.5) rotate(-90)" text-anchor="middle">3814</text>
  <text class="t" transform="translate(171.5,1299.5) rotate(-90)" text-anchor="middle">4000</text>
  <text class="t" transform="translate(209.5,1299.5) rotate(-90)" text-anchor="middle">3814</text>
  <text class="t" transform="translate(209.5,333.5) rotate(-90)" text-anchor="middle">186</text>
  <text class="t" transform="translate(209.5,977.5) rotate(-90)" text-anchor="middle">186</text>
  <text class="t" transform="translate(209.5,1621.5) rotate(-90)" text-anchor="middle">186</text>
</g>

<!-- graphic scale -->
<g id="scale-bar">
  <rect x="96" y="1145" width="5.5" height="322" fill="#9a9a9a"/>
  <rect x="96" y="1628" width="5.5" height="161" fill="#9a9a9a"/>
  <rect x="96" y="1870" width="5.5" height="80" fill="#9a9a9a"/>
  <line x1="98.7" y1="1467" x2="98.7" y2="1628" stroke="#aaa" stroke-width="1.5"/>
  <line x1="98.7" y1="1789" x2="98.7" y2="1870" stroke="#aaa" stroke-width="1.5"/>
  <text class="t" transform="translate(87.5,1145) rotate(-90)" text-anchor="middle">5000</text>
  <text class="t" transform="translate(87.5,1467) rotate(-90)" text-anchor="middle">3000</text>
  <text class="t" transform="translate(87.5,1628) rotate(-90)" text-anchor="middle">2000</text>
  <text class="t" transform="translate(87.5,1789) rotate(-90)" text-anchor="middle">1000</text>
  <text class="t" transform="translate(87.5,1870) rotate(-90)" text-anchor="middle">500</text>
  <text class="t" transform="translate(87.5,1951) rotate(-90)" text-anchor="middle">0</text>
</g>
</svg>
